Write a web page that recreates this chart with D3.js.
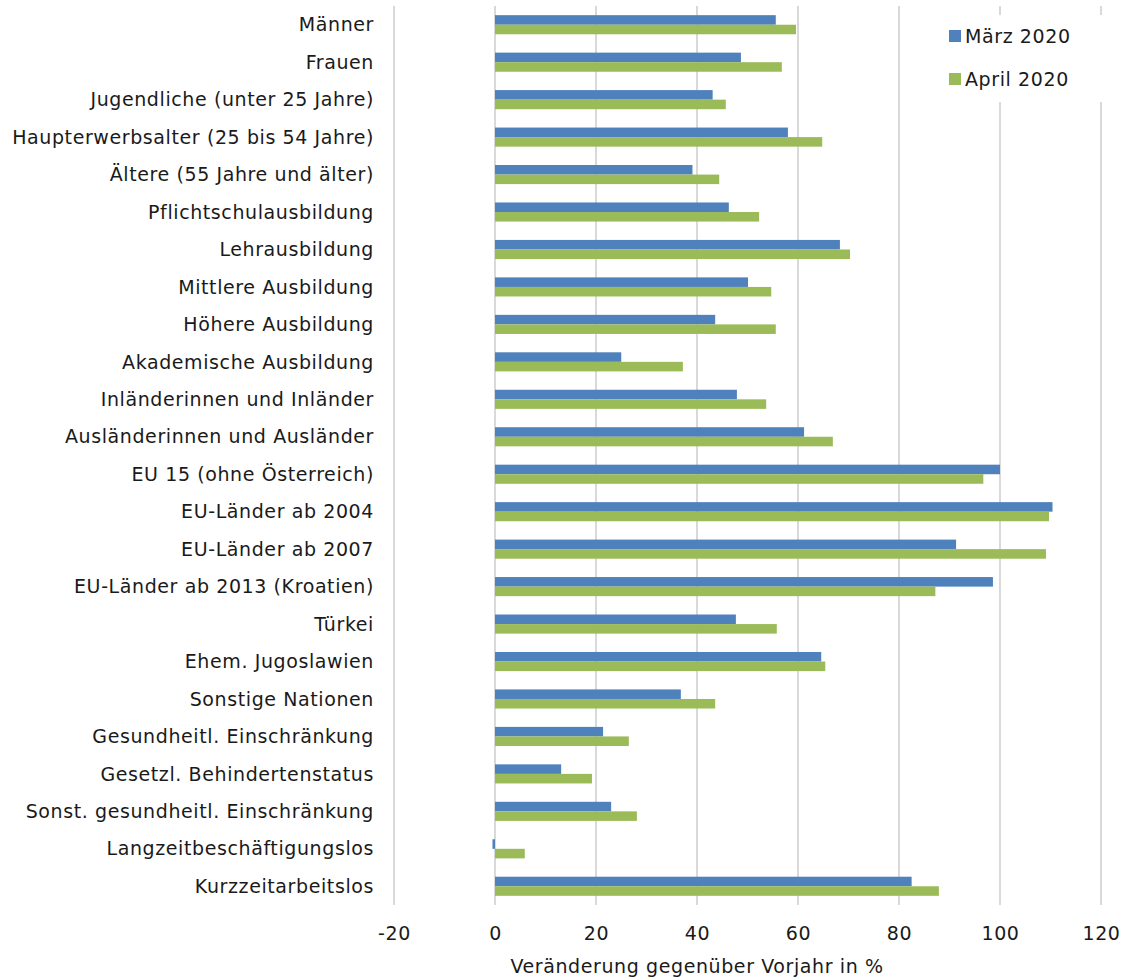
<!DOCTYPE html>
<html>
<head>
<meta charset="utf-8">
<script src="https://cdn.jsdelivr.net/npm/d3@7"></script>
<style>
  body { margin: 0; background: #fff; }
  text { font-family: "DejaVu Sans", sans-serif; fill: #1a1a1a; letter-spacing: 0.6px; }
</style>
</head>
<body>
<svg id="chart" width="1122" height="977"></svg>
<script>
// categories (top to bottom)
var categories = [
  "Männer", "Frauen", "Jugendliche (unter 25 Jahre)", "Haupterwerbsalter (25 bis 54 Jahre)",
  "Ältere (55 Jahre und älter)", "Pflichtschulausbildung", "Lehrausbildung", "Mittlere Ausbildung",
  "Höhere Ausbildung", "Akademische Ausbildung", "Inländerinnen und Inländer", "Ausländerinnen und Ausländer",
  "EU 15 (ohne Österreich) ", "EU-Länder ab 2004", "EU-Länder ab 2007", "EU-Länder ab 2013 (Kroatien)",
  "Türkei", "Ehem. Jugoslawien", "Sonstige Nationen", "Gesundheitl. Einschränkung",
  "Gesetzl. Behindertenstatus", "Sonst. gesundheitl. Einschränkung", "Langzeitbeschäftigungslos ", "Kurzzeitarbeitslos"
];
var maerz = [55.6, 48.7, 43.1, 58.0, 39.1, 46.3, 68.3, 50.1, 43.6, 25.0, 47.9, 61.2,
             100.0, 110.4, 91.3, 98.6, 47.7, 64.6, 36.8, 21.4, 13.1, 23.0, -0.5, 82.5];
var april = [59.6, 56.8, 45.7, 64.8, 44.4, 52.3, 70.3, 54.7, 55.6, 37.2, 53.7, 66.9,
             96.7, 109.7, 109.1, 87.2, 55.8, 65.4, 43.6, 26.5, 19.2, 28.1, 5.9, 87.9];
var seriesNames = ["März 2020", "April 2020"];
var seriesColors = ["#4f81bd", "#9bbb59"];
var xTicks = [-20, 0, 20, 40, 60, 80, 100, 120];

var svg = d3.select("#chart");

var x = d3.scaleLinear().domain([-20, 120]).range([394, 1101]);
var y = d3.scaleBand().domain(categories).range([6, 905]).paddingInner(0.49).paddingOuter(0.245);
var ySub = d3.scaleBand().domain([0, 1]).range([0, y.bandwidth()]);

// gridlines
svg.append("g").selectAll("line")
  .data(xTicks).enter().append("line")
  .attr("x1", function(d) { return x(d); })
  .attr("x2", function(d) { return x(d); })
  .attr("y1", 6).attr("y2", 905)
  .attr("stroke", "#d9d9d9").attr("stroke-width", 2);

// bars
var rows = categories.map(function(c, i) { return {cat: c, vals: [maerz[i], april[i]]}; });
var grp = svg.append("g").selectAll("g")
  .data(rows).enter().append("g")
  .attr("transform", function(d) { return "translate(0," + y(d.cat) + ")"; });

grp.selectAll("rect")
  .data(function(d) { return d.vals; })
  .enter().append("rect")
  .attr("x", function(d) { return x(Math.min(0, d)); })
  .attr("width", function(d) { return Math.abs(x(d) - x(0)); })
  .attr("y", function(d, i) { return ySub(i); })
  .attr("height", ySub.bandwidth())
  .attr("fill", function(d, i) { return seriesColors[i]; });

// category labels
svg.append("g").selectAll("text")
  .data(categories).enter().append("text")
  .attr("x", 374)
  .attr("y", function(d) { return y(d) + y.bandwidth() / 2; })
  .attr("dy", "0.35em")
  .attr("text-anchor", "end")
  .style("font-size", "19px")
  .text(function(d) { return d; });

// x axis
var xAxis = svg.append("g")
  .attr("transform", "translate(0,905)")
  .call(d3.axisBottom(x).tickValues(xTicks).tickSize(0).tickPadding(22)
    .tickFormat(function(d) { return String(d); }));
xAxis.select(".domain").remove();
xAxis.selectAll("text").style("font-size", "19px").attr("fill", "#1a1a1a")
  .style("font-family", "'DejaVu Sans', sans-serif");

svg.append("text")
  .attr("x", x(40))
  .attr("y", 973)
  .attr("text-anchor", "middle")
  .style("font-size", "19px")
  .text("Veränderung gegenüber Vorjahr in %");

// legend
var leg = svg.append("g");
leg.append("rect").attr("x", 930).attr("y", 15).attr("width", 180).attr("height", 87).attr("fill", "#fff");
var li = leg.selectAll("g.item").data(seriesNames).enter().append("g")
  .attr("class", "item")
  .attr("transform", function(d, i) { return "translate(949," + (30 + i * 43) + ")"; });
li.append("rect").attr("width", 12).attr("height", 12)
  .attr("fill", function(d, i) { return seriesColors[i]; });
li.append("text").attr("x", 16).attr("y", 6).attr("dy", "0.35em")
  .style("font-size", "19px")
  .text(function(d) { return d; });
</script>
</body>
</html>
